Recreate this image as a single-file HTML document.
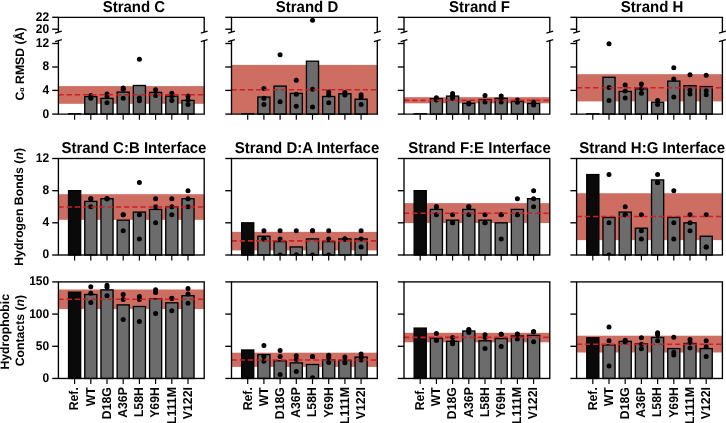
<!DOCTYPE html>
<html><head><meta charset="utf-8"><style>
html,body{margin:0;padding:0;background:#fff;width:726px;height:423px;overflow:hidden}
svg{display:block;will-change:transform}
text{text-rendering:geometricPrecision}
.t{font-family:"Liberation Sans", sans-serif;font-weight:bold;font-size:12px;fill:#000}
.l{font-family:"Liberation Sans", sans-serif;font-weight:bold;font-size:12.25px;fill:#000}
.ti{font-family:"Liberation Sans", sans-serif;font-weight:bold;font-size:15px;fill:#000}
</style></head><body>
<svg width="726" height="423" viewBox="0 0 726 423">
<rect width="726" height="423" fill="#fff"/>
<rect x="58.4" y="86.1" width="145.8" height="17.7" fill="#ce6d62"/>
<line x1="67.88" y1="113.8" x2="81.32" y2="113.8" stroke="#000" stroke-width="1.35"/>
<rect x="84.75" y="96.6" width="12.1" height="17.5" fill="#6c6c6c" stroke="#000" stroke-width="1.35"/>
<rect x="100.95" y="98.4" width="12.1" height="15.7" fill="#6c6c6c" stroke="#000" stroke-width="1.35"/>
<rect x="117.15" y="92.1" width="12.1" height="22" fill="#6c6c6c" stroke="#000" stroke-width="1.35"/>
<rect x="133.35" y="85.5" width="12.1" height="28.6" fill="#6c6c6c" stroke="#000" stroke-width="1.35"/>
<rect x="149.55" y="92.4" width="12.1" height="21.7" fill="#6c6c6c" stroke="#000" stroke-width="1.35"/>
<rect x="165.75" y="96.2" width="12.1" height="17.9" fill="#6c6c6c" stroke="#000" stroke-width="1.35"/>
<rect x="181.95" y="100.4" width="12.1" height="13.7" fill="#6c6c6c" stroke="#000" stroke-width="1.35"/>
<clipPath id="c00a"><rect x="58.4" y="17.3" width="145.8" height="14.8"/></clipPath>
<clipPath id="c00b"><rect x="58.4" y="40.6" width="145.8" height="73.5"/></clipPath>
<circle cx="90.8" cy="95.6" r="2.5" fill="#000" clip-path="url(#c00b)"/>
<circle cx="90.8" cy="98.2" r="2.5" fill="#000" clip-path="url(#c00b)"/>
<circle cx="107" cy="93.9" r="2.5" fill="#000" clip-path="url(#c00b)"/>
<circle cx="107" cy="96.3" r="2.5" fill="#000" clip-path="url(#c00b)"/>
<circle cx="107" cy="102.8" r="2.5" fill="#000" clip-path="url(#c00b)"/>
<circle cx="123.2" cy="88" r="2.5" fill="#000" clip-path="url(#c00b)"/>
<circle cx="123.2" cy="89.3" r="2.5" fill="#000" clip-path="url(#c00b)"/>
<circle cx="123.2" cy="98.2" r="2.5" fill="#000" clip-path="url(#c00b)"/>
<circle cx="139.4" cy="59.3" r="2.5" fill="#000" clip-path="url(#c00b)"/>
<circle cx="139.4" cy="98.1" r="2.5" fill="#000" clip-path="url(#c00b)"/>
<circle cx="139.4" cy="100.7" r="2.5" fill="#000" clip-path="url(#c00b)"/>
<circle cx="155.6" cy="89.8" r="2.5" fill="#000" clip-path="url(#c00b)"/>
<circle cx="155.6" cy="95.5" r="2.5" fill="#000" clip-path="url(#c00b)"/>
<circle cx="171.8" cy="93.3" r="2.5" fill="#000" clip-path="url(#c00b)"/>
<circle cx="171.8" cy="95.9" r="2.5" fill="#000" clip-path="url(#c00b)"/>
<circle cx="171.8" cy="100.5" r="2.5" fill="#000" clip-path="url(#c00b)"/>
<circle cx="188" cy="96" r="2.5" fill="#000" clip-path="url(#c00b)"/>
<circle cx="188" cy="100" r="2.5" fill="#000" clip-path="url(#c00b)"/>
<circle cx="188" cy="104.5" r="2.5" fill="#000" clip-path="url(#c00b)"/>
<line x1="58.4" y1="94.8" x2="204.2" y2="94.8" stroke="#c62229" stroke-width="1.6" stroke-dasharray="5.3 2.9"/>
<path d="M58.4 32.1 V17.3 H204.2 V32.1" fill="none" stroke="#000" stroke-width="1.35"/>
<path d="M58.4 40.6 V114.1 H204.2 V40.6" fill="none" stroke="#000" stroke-width="1.35"/>
<line x1="55" y1="33.1" x2="61.8" y2="31.1" stroke="#000" stroke-width="1.35"/>
<line x1="55" y1="41.6" x2="61.8" y2="39.6" stroke="#000" stroke-width="1.35"/>
<line x1="200.8" y1="33.1" x2="207.6" y2="31.1" stroke="#000" stroke-width="1.35"/>
<line x1="200.8" y1="41.6" x2="207.6" y2="39.6" stroke="#000" stroke-width="1.35"/>
<line x1="52.2" y1="114.1" x2="58.4" y2="114.1" stroke="#000" stroke-width="1.35"/>
<text transform="translate(49.2 117.55) scale(1 1.05)" text-anchor="end" class="t">0</text>
<line x1="52.2" y1="90.4" x2="58.4" y2="90.4" stroke="#000" stroke-width="1.35"/>
<text transform="translate(49.2 93.85) scale(1 1.05)" text-anchor="end" class="t">4</text>
<line x1="52.2" y1="67" x2="58.4" y2="67" stroke="#000" stroke-width="1.35"/>
<text transform="translate(49.2 70.45) scale(1 1.05)" text-anchor="end" class="t">8</text>
<line x1="52.2" y1="43.5" x2="58.4" y2="43.5" stroke="#000" stroke-width="1.35"/>
<text transform="translate(49.2 46.95) scale(1 1.05)" text-anchor="end" class="t">12</text>
<line x1="52.2" y1="29.2" x2="58.4" y2="29.2" stroke="#000" stroke-width="1.35"/>
<text transform="translate(49.2 32.65) scale(1 1.05)" text-anchor="end" class="t">20</text>
<line x1="52.2" y1="17.3" x2="58.4" y2="17.3" stroke="#000" stroke-width="1.35"/>
<text transform="translate(49.2 20.75) scale(1 1.05)" text-anchor="end" class="t">22</text>
<line x1="74.6" y1="114.1" x2="74.6" y2="119.7" stroke="#000" stroke-width="1.2"/>
<line x1="90.8" y1="114.1" x2="90.8" y2="119.7" stroke="#000" stroke-width="1.2"/>
<line x1="107" y1="114.1" x2="107" y2="119.7" stroke="#000" stroke-width="1.2"/>
<line x1="123.2" y1="114.1" x2="123.2" y2="119.7" stroke="#000" stroke-width="1.2"/>
<line x1="139.4" y1="114.1" x2="139.4" y2="119.7" stroke="#000" stroke-width="1.2"/>
<line x1="155.6" y1="114.1" x2="155.6" y2="119.7" stroke="#000" stroke-width="1.2"/>
<line x1="171.8" y1="114.1" x2="171.8" y2="119.7" stroke="#000" stroke-width="1.2"/>
<line x1="188" y1="114.1" x2="188" y2="119.7" stroke="#000" stroke-width="1.2"/>
<text transform="translate(133.9 11.8) scale(1 1.045)" text-anchor="middle" class="ti">Strand C</text>
<rect x="231.5" y="64.9" width="145.8" height="49" fill="#ce6d62"/>
<line x1="240.97" y1="113.8" x2="254.43" y2="113.8" stroke="#000" stroke-width="1.35"/>
<rect x="257.85" y="97.05" width="12.1" height="17.05" fill="#6c6c6c" stroke="#000" stroke-width="1.35"/>
<rect x="274.05" y="86.1" width="12.1" height="28" fill="#6c6c6c" stroke="#000" stroke-width="1.35"/>
<rect x="290.25" y="93.4" width="12.1" height="20.7" fill="#6c6c6c" stroke="#000" stroke-width="1.35"/>
<rect x="306.45" y="61.2" width="12.1" height="52.9" fill="#6c6c6c" stroke="#000" stroke-width="1.35"/>
<rect x="322.65" y="96.5" width="12.1" height="17.6" fill="#6c6c6c" stroke="#000" stroke-width="1.35"/>
<rect x="338.85" y="93.8" width="12.1" height="20.3" fill="#6c6c6c" stroke="#000" stroke-width="1.35"/>
<rect x="355.05" y="99.2" width="12.1" height="14.9" fill="#6c6c6c" stroke="#000" stroke-width="1.35"/>
<clipPath id="c01a"><rect x="231.5" y="17.3" width="145.8" height="14.8"/></clipPath>
<clipPath id="c01b"><rect x="231.5" y="40.6" width="145.8" height="73.5"/></clipPath>
<circle cx="263.9" cy="88.5" r="2.5" fill="#000" clip-path="url(#c01b)"/>
<circle cx="263.9" cy="98.2" r="2.5" fill="#000" clip-path="url(#c01b)"/>
<circle cx="263.9" cy="104.6" r="2.5" fill="#000" clip-path="url(#c01b)"/>
<circle cx="280.1" cy="54.8" r="2.5" fill="#000" clip-path="url(#c01b)"/>
<circle cx="280.1" cy="101.7" r="2.5" fill="#000" clip-path="url(#c01b)"/>
<circle cx="296.3" cy="80.2" r="2.5" fill="#000" clip-path="url(#c01b)"/>
<circle cx="296.3" cy="94.2" r="2.5" fill="#000" clip-path="url(#c01b)"/>
<circle cx="296.3" cy="106.2" r="2.5" fill="#000" clip-path="url(#c01b)"/>
<circle cx="312.5" cy="20.3" r="2.5" fill="#000" clip-path="url(#c01a)"/>
<circle cx="312.5" cy="89.3" r="2.5" fill="#000" clip-path="url(#c01b)"/>
<circle cx="312.5" cy="107" r="2.5" fill="#000" clip-path="url(#c01b)"/>
<circle cx="328.7" cy="92.1" r="2.5" fill="#000" clip-path="url(#c01b)"/>
<circle cx="328.7" cy="95" r="2.5" fill="#000" clip-path="url(#c01b)"/>
<circle cx="328.7" cy="102.7" r="2.5" fill="#000" clip-path="url(#c01b)"/>
<circle cx="344.9" cy="92.6" r="2.5" fill="#000" clip-path="url(#c01b)"/>
<circle cx="344.9" cy="95" r="2.5" fill="#000" clip-path="url(#c01b)"/>
<circle cx="361.1" cy="94.7" r="2.5" fill="#000" clip-path="url(#c01b)"/>
<circle cx="361.1" cy="96.9" r="2.5" fill="#000" clip-path="url(#c01b)"/>
<circle cx="361.1" cy="104.6" r="2.5" fill="#000" clip-path="url(#c01b)"/>
<line x1="231.5" y1="89.8" x2="377.3" y2="89.8" stroke="#c62229" stroke-width="1.6" stroke-dasharray="5.3 2.9"/>
<path d="M231.5 32.1 V17.3 H377.3 V32.1" fill="none" stroke="#000" stroke-width="1.35"/>
<path d="M231.5 40.6 V114.1 H377.3 V40.6" fill="none" stroke="#000" stroke-width="1.35"/>
<line x1="228.1" y1="33.1" x2="234.9" y2="31.1" stroke="#000" stroke-width="1.35"/>
<line x1="228.1" y1="41.6" x2="234.9" y2="39.6" stroke="#000" stroke-width="1.35"/>
<line x1="373.9" y1="33.1" x2="380.7" y2="31.1" stroke="#000" stroke-width="1.35"/>
<line x1="373.9" y1="41.6" x2="380.7" y2="39.6" stroke="#000" stroke-width="1.35"/>
<line x1="225.3" y1="114.1" x2="231.5" y2="114.1" stroke="#000" stroke-width="1.35"/>
<line x1="225.3" y1="90.4" x2="231.5" y2="90.4" stroke="#000" stroke-width="1.35"/>
<line x1="225.3" y1="67" x2="231.5" y2="67" stroke="#000" stroke-width="1.35"/>
<line x1="225.3" y1="43.5" x2="231.5" y2="43.5" stroke="#000" stroke-width="1.35"/>
<line x1="225.3" y1="29.2" x2="231.5" y2="29.2" stroke="#000" stroke-width="1.35"/>
<line x1="225.3" y1="17.3" x2="231.5" y2="17.3" stroke="#000" stroke-width="1.35"/>
<line x1="247.7" y1="114.1" x2="247.7" y2="119.7" stroke="#000" stroke-width="1.2"/>
<line x1="263.9" y1="114.1" x2="263.9" y2="119.7" stroke="#000" stroke-width="1.2"/>
<line x1="280.1" y1="114.1" x2="280.1" y2="119.7" stroke="#000" stroke-width="1.2"/>
<line x1="296.3" y1="114.1" x2="296.3" y2="119.7" stroke="#000" stroke-width="1.2"/>
<line x1="312.5" y1="114.1" x2="312.5" y2="119.7" stroke="#000" stroke-width="1.2"/>
<line x1="328.7" y1="114.1" x2="328.7" y2="119.7" stroke="#000" stroke-width="1.2"/>
<line x1="344.9" y1="114.1" x2="344.9" y2="119.7" stroke="#000" stroke-width="1.2"/>
<line x1="361.1" y1="114.1" x2="361.1" y2="119.7" stroke="#000" stroke-width="1.2"/>
<text transform="translate(307 11.8) scale(1 1.045)" text-anchor="middle" class="ti">Strand D</text>
<rect x="404" y="97.2" width="145.8" height="6.1" fill="#ce6d62"/>
<line x1="413.47" y1="113.8" x2="426.93" y2="113.8" stroke="#000" stroke-width="1.35"/>
<rect x="430.35" y="98.7" width="12.1" height="15.4" fill="#6c6c6c" stroke="#000" stroke-width="1.35"/>
<rect x="446.55" y="96.1" width="12.1" height="18" fill="#6c6c6c" stroke="#000" stroke-width="1.35"/>
<rect x="462.75" y="103.3" width="12.1" height="10.8" fill="#6c6c6c" stroke="#000" stroke-width="1.35"/>
<rect x="478.95" y="99.5" width="12.1" height="14.6" fill="#6c6c6c" stroke="#000" stroke-width="1.35"/>
<rect x="495.15" y="98.3" width="12.1" height="15.8" fill="#6c6c6c" stroke="#000" stroke-width="1.35"/>
<rect x="511.35" y="101.4" width="12.1" height="12.7" fill="#6c6c6c" stroke="#000" stroke-width="1.35"/>
<rect x="527.55" y="103.4" width="12.1" height="10.7" fill="#6c6c6c" stroke="#000" stroke-width="1.35"/>
<clipPath id="c02a"><rect x="404" y="17.3" width="145.8" height="14.8"/></clipPath>
<clipPath id="c02b"><rect x="404" y="40.6" width="145.8" height="73.5"/></clipPath>
<circle cx="436.4" cy="97.7" r="2.5" fill="#000" clip-path="url(#c02b)"/>
<circle cx="436.4" cy="100" r="2.5" fill="#000" clip-path="url(#c02b)"/>
<circle cx="452.6" cy="93.6" r="2.5" fill="#000" clip-path="url(#c02b)"/>
<circle cx="452.6" cy="95.8" r="2.5" fill="#000" clip-path="url(#c02b)"/>
<circle cx="452.6" cy="98.4" r="2.5" fill="#000" clip-path="url(#c02b)"/>
<circle cx="468.8" cy="102.9" r="2.5" fill="#000" clip-path="url(#c02b)"/>
<circle cx="468.8" cy="104" r="2.5" fill="#000" clip-path="url(#c02b)"/>
<circle cx="485" cy="95.5" r="2.5" fill="#000" clip-path="url(#c02b)"/>
<circle cx="485" cy="102" r="2.5" fill="#000" clip-path="url(#c02b)"/>
<circle cx="501.2" cy="96" r="2.5" fill="#000" clip-path="url(#c02b)"/>
<circle cx="501.2" cy="99.3" r="2.5" fill="#000" clip-path="url(#c02b)"/>
<circle cx="501.2" cy="101.9" r="2.5" fill="#000" clip-path="url(#c02b)"/>
<circle cx="517.4" cy="100" r="2.5" fill="#000" clip-path="url(#c02b)"/>
<circle cx="517.4" cy="102.3" r="2.5" fill="#000" clip-path="url(#c02b)"/>
<circle cx="533.6" cy="102" r="2.5" fill="#000" clip-path="url(#c02b)"/>
<circle cx="533.6" cy="105" r="2.5" fill="#000" clip-path="url(#c02b)"/>
<line x1="404" y1="100.35" x2="549.8" y2="100.35" stroke="#c62229" stroke-width="1.6" stroke-dasharray="5.3 2.9"/>
<path d="M404 32.1 V17.3 H549.8 V32.1" fill="none" stroke="#000" stroke-width="1.35"/>
<path d="M404 40.6 V114.1 H549.8 V40.6" fill="none" stroke="#000" stroke-width="1.35"/>
<line x1="400.6" y1="33.1" x2="407.4" y2="31.1" stroke="#000" stroke-width="1.35"/>
<line x1="400.6" y1="41.6" x2="407.4" y2="39.6" stroke="#000" stroke-width="1.35"/>
<line x1="546.4" y1="33.1" x2="553.2" y2="31.1" stroke="#000" stroke-width="1.35"/>
<line x1="546.4" y1="41.6" x2="553.2" y2="39.6" stroke="#000" stroke-width="1.35"/>
<line x1="397.8" y1="114.1" x2="404" y2="114.1" stroke="#000" stroke-width="1.35"/>
<line x1="397.8" y1="90.4" x2="404" y2="90.4" stroke="#000" stroke-width="1.35"/>
<line x1="397.8" y1="67" x2="404" y2="67" stroke="#000" stroke-width="1.35"/>
<line x1="397.8" y1="43.5" x2="404" y2="43.5" stroke="#000" stroke-width="1.35"/>
<line x1="397.8" y1="29.2" x2="404" y2="29.2" stroke="#000" stroke-width="1.35"/>
<line x1="397.8" y1="17.3" x2="404" y2="17.3" stroke="#000" stroke-width="1.35"/>
<line x1="420.2" y1="114.1" x2="420.2" y2="119.7" stroke="#000" stroke-width="1.2"/>
<line x1="436.4" y1="114.1" x2="436.4" y2="119.7" stroke="#000" stroke-width="1.2"/>
<line x1="452.6" y1="114.1" x2="452.6" y2="119.7" stroke="#000" stroke-width="1.2"/>
<line x1="468.8" y1="114.1" x2="468.8" y2="119.7" stroke="#000" stroke-width="1.2"/>
<line x1="485" y1="114.1" x2="485" y2="119.7" stroke="#000" stroke-width="1.2"/>
<line x1="501.2" y1="114.1" x2="501.2" y2="119.7" stroke="#000" stroke-width="1.2"/>
<line x1="517.4" y1="114.1" x2="517.4" y2="119.7" stroke="#000" stroke-width="1.2"/>
<line x1="533.6" y1="114.1" x2="533.6" y2="119.7" stroke="#000" stroke-width="1.2"/>
<text transform="translate(479.5 11.8) scale(1 1.045)" text-anchor="middle" class="ti">Strand F</text>
<rect x="576.6" y="74.2" width="145.8" height="27.2" fill="#ce6d62"/>
<line x1="586.08" y1="113.8" x2="599.52" y2="113.8" stroke="#000" stroke-width="1.35"/>
<rect x="602.95" y="77.3" width="12.1" height="36.8" fill="#6c6c6c" stroke="#000" stroke-width="1.35"/>
<rect x="619.15" y="91.4" width="12.1" height="22.7" fill="#6c6c6c" stroke="#000" stroke-width="1.35"/>
<rect x="635.35" y="88.85" width="12.1" height="25.25" fill="#6c6c6c" stroke="#000" stroke-width="1.35"/>
<rect x="651.55" y="102.2" width="12.1" height="11.9" fill="#6c6c6c" stroke="#000" stroke-width="1.35"/>
<rect x="667.75" y="81.1" width="12.1" height="33" fill="#6c6c6c" stroke="#000" stroke-width="1.35"/>
<rect x="683.95" y="85.7" width="12.1" height="28.4" fill="#6c6c6c" stroke="#000" stroke-width="1.35"/>
<rect x="700.15" y="86.6" width="12.1" height="27.5" fill="#6c6c6c" stroke="#000" stroke-width="1.35"/>
<clipPath id="c03a"><rect x="576.6" y="17.3" width="145.8" height="14.8"/></clipPath>
<clipPath id="c03b"><rect x="576.6" y="40.6" width="145.8" height="73.5"/></clipPath>
<circle cx="609" cy="43.8" r="2.5" fill="#000" clip-path="url(#c03b)"/>
<circle cx="609" cy="87.6" r="2.5" fill="#000" clip-path="url(#c03b)"/>
<circle cx="609" cy="100.5" r="2.5" fill="#000" clip-path="url(#c03b)"/>
<circle cx="625.2" cy="84.9" r="2.5" fill="#000" clip-path="url(#c03b)"/>
<circle cx="625.2" cy="91" r="2.5" fill="#000" clip-path="url(#c03b)"/>
<circle cx="625.2" cy="98" r="2.5" fill="#000" clip-path="url(#c03b)"/>
<circle cx="641.4" cy="83.9" r="2.5" fill="#000" clip-path="url(#c03b)"/>
<circle cx="641.4" cy="88.5" r="2.5" fill="#000" clip-path="url(#c03b)"/>
<circle cx="641.4" cy="93.3" r="2.5" fill="#000" clip-path="url(#c03b)"/>
<circle cx="657.6" cy="100.4" r="2.5" fill="#000" clip-path="url(#c03b)"/>
<circle cx="657.6" cy="104.5" r="2.5" fill="#000" clip-path="url(#c03b)"/>
<circle cx="673.8" cy="67.8" r="2.5" fill="#000" clip-path="url(#c03b)"/>
<circle cx="673.8" cy="79" r="2.5" fill="#000" clip-path="url(#c03b)"/>
<circle cx="673.8" cy="97" r="2.5" fill="#000" clip-path="url(#c03b)"/>
<circle cx="690" cy="74.8" r="2.5" fill="#000" clip-path="url(#c03b)"/>
<circle cx="690" cy="90.1" r="2.5" fill="#000" clip-path="url(#c03b)"/>
<circle cx="690" cy="94.1" r="2.5" fill="#000" clip-path="url(#c03b)"/>
<circle cx="706.2" cy="75.3" r="2.5" fill="#000" clip-path="url(#c03b)"/>
<circle cx="706.2" cy="90.7" r="2.5" fill="#000" clip-path="url(#c03b)"/>
<circle cx="706.2" cy="94.8" r="2.5" fill="#000" clip-path="url(#c03b)"/>
<line x1="576.6" y1="87.7" x2="722.4" y2="87.7" stroke="#c62229" stroke-width="1.6" stroke-dasharray="5.3 2.9"/>
<path d="M576.6 32.1 V17.3 H722.4 V32.1" fill="none" stroke="#000" stroke-width="1.35"/>
<path d="M576.6 40.6 V114.1 H722.4 V40.6" fill="none" stroke="#000" stroke-width="1.35"/>
<line x1="573.2" y1="33.1" x2="580" y2="31.1" stroke="#000" stroke-width="1.35"/>
<line x1="573.2" y1="41.6" x2="580" y2="39.6" stroke="#000" stroke-width="1.35"/>
<line x1="719" y1="33.1" x2="725.8" y2="31.1" stroke="#000" stroke-width="1.35"/>
<line x1="719" y1="41.6" x2="725.8" y2="39.6" stroke="#000" stroke-width="1.35"/>
<line x1="570.4" y1="114.1" x2="576.6" y2="114.1" stroke="#000" stroke-width="1.35"/>
<line x1="570.4" y1="90.4" x2="576.6" y2="90.4" stroke="#000" stroke-width="1.35"/>
<line x1="570.4" y1="67" x2="576.6" y2="67" stroke="#000" stroke-width="1.35"/>
<line x1="570.4" y1="43.5" x2="576.6" y2="43.5" stroke="#000" stroke-width="1.35"/>
<line x1="570.4" y1="29.2" x2="576.6" y2="29.2" stroke="#000" stroke-width="1.35"/>
<line x1="570.4" y1="17.3" x2="576.6" y2="17.3" stroke="#000" stroke-width="1.35"/>
<line x1="592.8" y1="114.1" x2="592.8" y2="119.7" stroke="#000" stroke-width="1.2"/>
<line x1="609" y1="114.1" x2="609" y2="119.7" stroke="#000" stroke-width="1.2"/>
<line x1="625.2" y1="114.1" x2="625.2" y2="119.7" stroke="#000" stroke-width="1.2"/>
<line x1="641.4" y1="114.1" x2="641.4" y2="119.7" stroke="#000" stroke-width="1.2"/>
<line x1="657.6" y1="114.1" x2="657.6" y2="119.7" stroke="#000" stroke-width="1.2"/>
<line x1="673.8" y1="114.1" x2="673.8" y2="119.7" stroke="#000" stroke-width="1.2"/>
<line x1="690" y1="114.1" x2="690" y2="119.7" stroke="#000" stroke-width="1.2"/>
<line x1="706.2" y1="114.1" x2="706.2" y2="119.7" stroke="#000" stroke-width="1.2"/>
<text transform="translate(652.1 11.8) scale(1 1.045)" text-anchor="middle" class="ti">Strand H</text>
<rect x="58.4" y="194.2" width="145.8" height="25.65" fill="#ce6d62"/>
<rect x="68.55" y="190.67" width="12.1" height="64.33" fill="#0a0a0a" stroke="#000" stroke-width="1.35"/>
<rect x="84.75" y="201.39" width="12.1" height="53.61" fill="#6c6c6c" stroke="#000" stroke-width="1.35"/>
<rect x="100.95" y="198.71" width="12.1" height="56.29" fill="#6c6c6c" stroke="#000" stroke-width="1.35"/>
<rect x="117.15" y="220.15" width="12.1" height="34.85" fill="#6c6c6c" stroke="#000" stroke-width="1.35"/>
<rect x="133.35" y="212.11" width="12.1" height="42.89" fill="#6c6c6c" stroke="#000" stroke-width="1.35"/>
<rect x="149.55" y="209.43" width="12.1" height="45.57" fill="#6c6c6c" stroke="#000" stroke-width="1.35"/>
<rect x="165.75" y="206.75" width="12.1" height="48.25" fill="#6c6c6c" stroke="#000" stroke-width="1.35"/>
<rect x="181.95" y="198.71" width="12.1" height="56.29" fill="#6c6c6c" stroke="#000" stroke-width="1.35"/>
<clipPath id="c10"><rect x="58.4" y="158.5" width="145.8" height="96.5"/></clipPath>
<circle cx="90.8" cy="198.71" r="2.5" fill="#000" clip-path="url(#c10)"/>
<circle cx="90.8" cy="198.71" r="2.5" fill="#000" clip-path="url(#c10)"/>
<circle cx="90.8" cy="206.75" r="2.5" fill="#000" clip-path="url(#c10)"/>
<circle cx="107" cy="198.71" r="2.5" fill="#000" clip-path="url(#c10)"/>
<circle cx="107" cy="198.71" r="2.5" fill="#000" clip-path="url(#c10)"/>
<circle cx="107" cy="198.71" r="2.5" fill="#000" clip-path="url(#c10)"/>
<circle cx="123.2" cy="214.79" r="2.5" fill="#000" clip-path="url(#c10)"/>
<circle cx="123.2" cy="214.79" r="2.5" fill="#000" clip-path="url(#c10)"/>
<circle cx="123.2" cy="230.87" r="2.5" fill="#000" clip-path="url(#c10)"/>
<circle cx="139.4" cy="182.62" r="2.5" fill="#000" clip-path="url(#c10)"/>
<circle cx="139.4" cy="214.79" r="2.5" fill="#000" clip-path="url(#c10)"/>
<circle cx="139.4" cy="238.92" r="2.5" fill="#000" clip-path="url(#c10)"/>
<circle cx="155.6" cy="198.71" r="2.5" fill="#000" clip-path="url(#c10)"/>
<circle cx="155.6" cy="206.75" r="2.5" fill="#000" clip-path="url(#c10)"/>
<circle cx="155.6" cy="222.83" r="2.5" fill="#000" clip-path="url(#c10)"/>
<circle cx="171.8" cy="198.71" r="2.5" fill="#000" clip-path="url(#c10)"/>
<circle cx="171.8" cy="206.75" r="2.5" fill="#000" clip-path="url(#c10)"/>
<circle cx="171.8" cy="214.79" r="2.5" fill="#000" clip-path="url(#c10)"/>
<circle cx="188" cy="190.67" r="2.5" fill="#000" clip-path="url(#c10)"/>
<circle cx="188" cy="198.71" r="2.5" fill="#000" clip-path="url(#c10)"/>
<circle cx="188" cy="206.75" r="2.5" fill="#000" clip-path="url(#c10)"/>
<line x1="58.4" y1="206.99" x2="204.2" y2="206.99" stroke="#c62229" stroke-width="1.6" stroke-dasharray="5.3 2.9"/>
<rect x="58.4" y="158.5" width="145.8" height="96.5" fill="none" stroke="#000" stroke-width="1.35"/>
<line x1="52.2" y1="255" x2="58.4" y2="255" stroke="#000" stroke-width="1.35"/>
<text transform="translate(49.2 258.45) scale(1 1.05)" text-anchor="end" class="t">0</text>
<line x1="52.2" y1="222.8" x2="58.4" y2="222.8" stroke="#000" stroke-width="1.35"/>
<text transform="translate(49.2 226.25) scale(1 1.05)" text-anchor="end" class="t">4</text>
<line x1="52.2" y1="190.7" x2="58.4" y2="190.7" stroke="#000" stroke-width="1.35"/>
<text transform="translate(49.2 194.15) scale(1 1.05)" text-anchor="end" class="t">8</text>
<line x1="52.2" y1="158.5" x2="58.4" y2="158.5" stroke="#000" stroke-width="1.35"/>
<text transform="translate(49.2 161.95) scale(1 1.05)" text-anchor="end" class="t">12</text>
<line x1="74.6" y1="255" x2="74.6" y2="260.6" stroke="#000" stroke-width="1.2"/>
<line x1="90.8" y1="255" x2="90.8" y2="260.6" stroke="#000" stroke-width="1.2"/>
<line x1="107" y1="255" x2="107" y2="260.6" stroke="#000" stroke-width="1.2"/>
<line x1="123.2" y1="255" x2="123.2" y2="260.6" stroke="#000" stroke-width="1.2"/>
<line x1="139.4" y1="255" x2="139.4" y2="260.6" stroke="#000" stroke-width="1.2"/>
<line x1="155.6" y1="255" x2="155.6" y2="260.6" stroke="#000" stroke-width="1.2"/>
<line x1="171.8" y1="255" x2="171.8" y2="260.6" stroke="#000" stroke-width="1.2"/>
<line x1="188" y1="255" x2="188" y2="260.6" stroke="#000" stroke-width="1.2"/>
<text transform="translate(133.9 153) scale(1 1.045)" text-anchor="middle" class="ti">Strand C:B Interface</text>
<rect x="231.5" y="231.84" width="145.8" height="18.58" fill="#ce6d62"/>
<rect x="241.65" y="222.83" width="12.1" height="32.17" fill="#0a0a0a" stroke="#000" stroke-width="1.35"/>
<rect x="257.85" y="236.24" width="12.1" height="18.76" fill="#6c6c6c" stroke="#000" stroke-width="1.35"/>
<rect x="274.05" y="241.6" width="12.1" height="13.4" fill="#6c6c6c" stroke="#000" stroke-width="1.35"/>
<rect x="290.25" y="246.96" width="12.1" height="8.04" fill="#6c6c6c" stroke="#000" stroke-width="1.35"/>
<rect x="306.45" y="238.92" width="12.1" height="16.08" fill="#6c6c6c" stroke="#000" stroke-width="1.35"/>
<rect x="322.65" y="241.6" width="12.1" height="13.4" fill="#6c6c6c" stroke="#000" stroke-width="1.35"/>
<rect x="338.85" y="238.92" width="12.1" height="16.08" fill="#6c6c6c" stroke="#000" stroke-width="1.35"/>
<rect x="355.05" y="238.92" width="12.1" height="16.08" fill="#6c6c6c" stroke="#000" stroke-width="1.35"/>
<clipPath id="c11"><rect x="231.5" y="158.5" width="145.8" height="96.5"/></clipPath>
<circle cx="263.9" cy="230.87" r="2.5" fill="#000" clip-path="url(#c11)"/>
<circle cx="263.9" cy="238.92" r="2.5" fill="#000" clip-path="url(#c11)"/>
<circle cx="263.9" cy="238.92" r="2.5" fill="#000" clip-path="url(#c11)"/>
<circle cx="280.1" cy="230.87" r="2.5" fill="#000" clip-path="url(#c11)"/>
<circle cx="280.1" cy="238.92" r="2.5" fill="#000" clip-path="url(#c11)"/>
<circle cx="280.1" cy="255" r="2.5" fill="#000" clip-path="url(#c11)"/>
<circle cx="296.3" cy="230.87" r="2.5" fill="#000" clip-path="url(#c11)"/>
<circle cx="296.3" cy="255" r="2.5" fill="#000" clip-path="url(#c11)"/>
<circle cx="296.3" cy="255" r="2.5" fill="#000" clip-path="url(#c11)"/>
<circle cx="312.5" cy="230.87" r="2.5" fill="#000" clip-path="url(#c11)"/>
<circle cx="312.5" cy="230.87" r="2.5" fill="#000" clip-path="url(#c11)"/>
<circle cx="312.5" cy="255" r="2.5" fill="#000" clip-path="url(#c11)"/>
<circle cx="328.7" cy="230.87" r="2.5" fill="#000" clip-path="url(#c11)"/>
<circle cx="328.7" cy="238.92" r="2.5" fill="#000" clip-path="url(#c11)"/>
<circle cx="328.7" cy="255" r="2.5" fill="#000" clip-path="url(#c11)"/>
<circle cx="344.9" cy="238.92" r="2.5" fill="#000" clip-path="url(#c11)"/>
<circle cx="344.9" cy="238.92" r="2.5" fill="#000" clip-path="url(#c11)"/>
<circle cx="344.9" cy="238.92" r="2.5" fill="#000" clip-path="url(#c11)"/>
<circle cx="361.1" cy="230.87" r="2.5" fill="#000" clip-path="url(#c11)"/>
<circle cx="361.1" cy="238.92" r="2.5" fill="#000" clip-path="url(#c11)"/>
<circle cx="361.1" cy="246.96" r="2.5" fill="#000" clip-path="url(#c11)"/>
<line x1="231.5" y1="240.85" x2="377.3" y2="240.85" stroke="#c62229" stroke-width="1.6" stroke-dasharray="5.3 2.9"/>
<rect x="231.5" y="158.5" width="145.8" height="96.5" fill="none" stroke="#000" stroke-width="1.35"/>
<line x1="225.3" y1="255" x2="231.5" y2="255" stroke="#000" stroke-width="1.35"/>
<line x1="225.3" y1="222.8" x2="231.5" y2="222.8" stroke="#000" stroke-width="1.35"/>
<line x1="225.3" y1="190.7" x2="231.5" y2="190.7" stroke="#000" stroke-width="1.35"/>
<line x1="225.3" y1="158.5" x2="231.5" y2="158.5" stroke="#000" stroke-width="1.35"/>
<line x1="247.7" y1="255" x2="247.7" y2="260.6" stroke="#000" stroke-width="1.2"/>
<line x1="263.9" y1="255" x2="263.9" y2="260.6" stroke="#000" stroke-width="1.2"/>
<line x1="280.1" y1="255" x2="280.1" y2="260.6" stroke="#000" stroke-width="1.2"/>
<line x1="296.3" y1="255" x2="296.3" y2="260.6" stroke="#000" stroke-width="1.2"/>
<line x1="312.5" y1="255" x2="312.5" y2="260.6" stroke="#000" stroke-width="1.2"/>
<line x1="328.7" y1="255" x2="328.7" y2="260.6" stroke="#000" stroke-width="1.2"/>
<line x1="344.9" y1="255" x2="344.9" y2="260.6" stroke="#000" stroke-width="1.2"/>
<line x1="361.1" y1="255" x2="361.1" y2="260.6" stroke="#000" stroke-width="1.2"/>
<text transform="translate(307 153) scale(1 1.045)" text-anchor="middle" class="ti">Strand D:A Interface</text>
<rect x="404" y="203.13" width="145.8" height="19.94" fill="#ce6d62"/>
<rect x="414.15" y="190.67" width="12.1" height="64.33" fill="#0a0a0a" stroke="#000" stroke-width="1.35"/>
<rect x="430.35" y="209.43" width="12.1" height="45.57" fill="#6c6c6c" stroke="#000" stroke-width="1.35"/>
<rect x="446.55" y="220.15" width="12.1" height="34.85" fill="#6c6c6c" stroke="#000" stroke-width="1.35"/>
<rect x="462.75" y="209.43" width="12.1" height="45.57" fill="#6c6c6c" stroke="#000" stroke-width="1.35"/>
<rect x="478.95" y="220.15" width="12.1" height="34.85" fill="#6c6c6c" stroke="#000" stroke-width="1.35"/>
<rect x="495.15" y="222.83" width="12.1" height="32.17" fill="#6c6c6c" stroke="#000" stroke-width="1.35"/>
<rect x="511.35" y="209.43" width="12.1" height="45.57" fill="#6c6c6c" stroke="#000" stroke-width="1.35"/>
<rect x="527.55" y="198.71" width="12.1" height="56.29" fill="#6c6c6c" stroke="#000" stroke-width="1.35"/>
<clipPath id="c12"><rect x="404" y="158.5" width="145.8" height="96.5"/></clipPath>
<circle cx="436.4" cy="206.75" r="2.5" fill="#000" clip-path="url(#c12)"/>
<circle cx="436.4" cy="206.75" r="2.5" fill="#000" clip-path="url(#c12)"/>
<circle cx="436.4" cy="214.79" r="2.5" fill="#000" clip-path="url(#c12)"/>
<circle cx="452.6" cy="214.79" r="2.5" fill="#000" clip-path="url(#c12)"/>
<circle cx="452.6" cy="222.83" r="2.5" fill="#000" clip-path="url(#c12)"/>
<circle cx="452.6" cy="222.83" r="2.5" fill="#000" clip-path="url(#c12)"/>
<circle cx="468.8" cy="206.75" r="2.5" fill="#000" clip-path="url(#c12)"/>
<circle cx="468.8" cy="206.75" r="2.5" fill="#000" clip-path="url(#c12)"/>
<circle cx="468.8" cy="214.79" r="2.5" fill="#000" clip-path="url(#c12)"/>
<circle cx="485" cy="214.79" r="2.5" fill="#000" clip-path="url(#c12)"/>
<circle cx="485" cy="222.83" r="2.5" fill="#000" clip-path="url(#c12)"/>
<circle cx="485" cy="222.83" r="2.5" fill="#000" clip-path="url(#c12)"/>
<circle cx="501.2" cy="214.79" r="2.5" fill="#000" clip-path="url(#c12)"/>
<circle cx="501.2" cy="214.79" r="2.5" fill="#000" clip-path="url(#c12)"/>
<circle cx="501.2" cy="238.92" r="2.5" fill="#000" clip-path="url(#c12)"/>
<circle cx="517.4" cy="198.71" r="2.5" fill="#000" clip-path="url(#c12)"/>
<circle cx="517.4" cy="214.79" r="2.5" fill="#000" clip-path="url(#c12)"/>
<circle cx="517.4" cy="214.79" r="2.5" fill="#000" clip-path="url(#c12)"/>
<circle cx="533.6" cy="190.67" r="2.5" fill="#000" clip-path="url(#c12)"/>
<circle cx="533.6" cy="198.71" r="2.5" fill="#000" clip-path="url(#c12)"/>
<circle cx="533.6" cy="206.75" r="2.5" fill="#000" clip-path="url(#c12)"/>
<line x1="404" y1="213.18" x2="549.8" y2="213.18" stroke="#c62229" stroke-width="1.6" stroke-dasharray="5.3 2.9"/>
<rect x="404" y="158.5" width="145.8" height="96.5" fill="none" stroke="#000" stroke-width="1.35"/>
<line x1="397.8" y1="255" x2="404" y2="255" stroke="#000" stroke-width="1.35"/>
<line x1="397.8" y1="222.8" x2="404" y2="222.8" stroke="#000" stroke-width="1.35"/>
<line x1="397.8" y1="190.7" x2="404" y2="190.7" stroke="#000" stroke-width="1.35"/>
<line x1="397.8" y1="158.5" x2="404" y2="158.5" stroke="#000" stroke-width="1.35"/>
<line x1="420.2" y1="255" x2="420.2" y2="260.6" stroke="#000" stroke-width="1.2"/>
<line x1="436.4" y1="255" x2="436.4" y2="260.6" stroke="#000" stroke-width="1.2"/>
<line x1="452.6" y1="255" x2="452.6" y2="260.6" stroke="#000" stroke-width="1.2"/>
<line x1="468.8" y1="255" x2="468.8" y2="260.6" stroke="#000" stroke-width="1.2"/>
<line x1="485" y1="255" x2="485" y2="260.6" stroke="#000" stroke-width="1.2"/>
<line x1="501.2" y1="255" x2="501.2" y2="260.6" stroke="#000" stroke-width="1.2"/>
<line x1="517.4" y1="255" x2="517.4" y2="260.6" stroke="#000" stroke-width="1.2"/>
<line x1="533.6" y1="255" x2="533.6" y2="260.6" stroke="#000" stroke-width="1.2"/>
<text transform="translate(479.5 153) scale(1 1.045)" text-anchor="middle" class="ti">Strand F:E Interface</text>
<rect x="576.6" y="193.24" width="145.8" height="46.88" fill="#ce6d62"/>
<rect x="586.75" y="174.58" width="12.1" height="80.42" fill="#0a0a0a" stroke="#000" stroke-width="1.35"/>
<rect x="602.95" y="217.47" width="12.1" height="37.53" fill="#6c6c6c" stroke="#000" stroke-width="1.35"/>
<rect x="619.15" y="212.11" width="12.1" height="42.89" fill="#6c6c6c" stroke="#000" stroke-width="1.35"/>
<rect x="635.35" y="228.19" width="12.1" height="26.81" fill="#6c6c6c" stroke="#000" stroke-width="1.35"/>
<rect x="651.55" y="179.94" width="12.1" height="75.06" fill="#6c6c6c" stroke="#000" stroke-width="1.35"/>
<rect x="667.75" y="217.47" width="12.1" height="37.53" fill="#6c6c6c" stroke="#000" stroke-width="1.35"/>
<rect x="683.95" y="222.83" width="12.1" height="32.17" fill="#6c6c6c" stroke="#000" stroke-width="1.35"/>
<rect x="700.15" y="236.24" width="12.1" height="18.76" fill="#6c6c6c" stroke="#000" stroke-width="1.35"/>
<clipPath id="c13"><rect x="576.6" y="158.5" width="145.8" height="96.5"/></clipPath>
<circle cx="609" cy="174.58" r="2.5" fill="#000" clip-path="url(#c13)"/>
<circle cx="609" cy="222.83" r="2.5" fill="#000" clip-path="url(#c13)"/>
<circle cx="609" cy="255" r="2.5" fill="#000" clip-path="url(#c13)"/>
<circle cx="625.2" cy="206.75" r="2.5" fill="#000" clip-path="url(#c13)"/>
<circle cx="625.2" cy="214.79" r="2.5" fill="#000" clip-path="url(#c13)"/>
<circle cx="625.2" cy="214.79" r="2.5" fill="#000" clip-path="url(#c13)"/>
<circle cx="641.4" cy="214.79" r="2.5" fill="#000" clip-path="url(#c13)"/>
<circle cx="641.4" cy="230.87" r="2.5" fill="#000" clip-path="url(#c13)"/>
<circle cx="641.4" cy="238.92" r="2.5" fill="#000" clip-path="url(#c13)"/>
<circle cx="657.6" cy="174.58" r="2.5" fill="#000" clip-path="url(#c13)"/>
<circle cx="657.6" cy="182.62" r="2.5" fill="#000" clip-path="url(#c13)"/>
<circle cx="657.6" cy="182.62" r="2.5" fill="#000" clip-path="url(#c13)"/>
<circle cx="673.8" cy="190.67" r="2.5" fill="#000" clip-path="url(#c13)"/>
<circle cx="673.8" cy="222.83" r="2.5" fill="#000" clip-path="url(#c13)"/>
<circle cx="673.8" cy="238.92" r="2.5" fill="#000" clip-path="url(#c13)"/>
<circle cx="690" cy="214.79" r="2.5" fill="#000" clip-path="url(#c13)"/>
<circle cx="690" cy="222.83" r="2.5" fill="#000" clip-path="url(#c13)"/>
<circle cx="690" cy="230.87" r="2.5" fill="#000" clip-path="url(#c13)"/>
<circle cx="706.2" cy="214.79" r="2.5" fill="#000" clip-path="url(#c13)"/>
<circle cx="706.2" cy="246.96" r="2.5" fill="#000" clip-path="url(#c13)"/>
<circle cx="706.2" cy="246.96" r="2.5" fill="#000" clip-path="url(#c13)"/>
<line x1="576.6" y1="216.48" x2="722.4" y2="216.48" stroke="#c62229" stroke-width="1.6" stroke-dasharray="5.3 2.9"/>
<rect x="576.6" y="158.5" width="145.8" height="96.5" fill="none" stroke="#000" stroke-width="1.35"/>
<line x1="570.4" y1="255" x2="576.6" y2="255" stroke="#000" stroke-width="1.35"/>
<line x1="570.4" y1="222.8" x2="576.6" y2="222.8" stroke="#000" stroke-width="1.35"/>
<line x1="570.4" y1="190.7" x2="576.6" y2="190.7" stroke="#000" stroke-width="1.35"/>
<line x1="570.4" y1="158.5" x2="576.6" y2="158.5" stroke="#000" stroke-width="1.35"/>
<line x1="592.8" y1="255" x2="592.8" y2="260.6" stroke="#000" stroke-width="1.2"/>
<line x1="609" y1="255" x2="609" y2="260.6" stroke="#000" stroke-width="1.2"/>
<line x1="625.2" y1="255" x2="625.2" y2="260.6" stroke="#000" stroke-width="1.2"/>
<line x1="641.4" y1="255" x2="641.4" y2="260.6" stroke="#000" stroke-width="1.2"/>
<line x1="657.6" y1="255" x2="657.6" y2="260.6" stroke="#000" stroke-width="1.2"/>
<line x1="673.8" y1="255" x2="673.8" y2="260.6" stroke="#000" stroke-width="1.2"/>
<line x1="690" y1="255" x2="690" y2="260.6" stroke="#000" stroke-width="1.2"/>
<line x1="706.2" y1="255" x2="706.2" y2="260.6" stroke="#000" stroke-width="1.2"/>
<text transform="translate(652.1 153) scale(1 1.045)" text-anchor="middle" class="ti">Strand H:G Interface</text>
<rect x="58.4" y="289.5" width="145.8" height="19.6" fill="#ce6d62"/>
<rect x="68.55" y="292.2" width="12.1" height="86.25" fill="#0a0a0a" stroke="#000" stroke-width="1.35"/>
<rect x="84.75" y="294.5" width="12.1" height="83.95" fill="#6c6c6c" stroke="#000" stroke-width="1.35"/>
<rect x="100.95" y="289.9" width="12.1" height="88.55" fill="#6c6c6c" stroke="#000" stroke-width="1.35"/>
<rect x="117.15" y="304.9" width="12.1" height="73.55" fill="#6c6c6c" stroke="#000" stroke-width="1.35"/>
<rect x="133.35" y="306.5" width="12.1" height="71.95" fill="#6c6c6c" stroke="#000" stroke-width="1.35"/>
<rect x="149.55" y="298.9" width="12.1" height="79.55" fill="#6c6c6c" stroke="#000" stroke-width="1.35"/>
<rect x="165.75" y="302.8" width="12.1" height="75.65" fill="#6c6c6c" stroke="#000" stroke-width="1.35"/>
<rect x="181.95" y="295.7" width="12.1" height="82.75" fill="#6c6c6c" stroke="#000" stroke-width="1.35"/>
<clipPath id="c20"><rect x="58.4" y="281.9" width="145.8" height="96.55"/></clipPath>
<circle cx="90.8" cy="286.8" r="2.5" fill="#000" clip-path="url(#c20)"/>
<circle cx="90.8" cy="293.3" r="2.5" fill="#000" clip-path="url(#c20)"/>
<circle cx="90.8" cy="302.6" r="2.5" fill="#000" clip-path="url(#c20)"/>
<circle cx="107" cy="285.2" r="2.5" fill="#000" clip-path="url(#c20)"/>
<circle cx="107" cy="287.3" r="2.5" fill="#000" clip-path="url(#c20)"/>
<circle cx="107" cy="295.8" r="2.5" fill="#000" clip-path="url(#c20)"/>
<circle cx="123.2" cy="294.4" r="2.5" fill="#000" clip-path="url(#c20)"/>
<circle cx="123.2" cy="299.6" r="2.5" fill="#000" clip-path="url(#c20)"/>
<circle cx="123.2" cy="319.5" r="2.5" fill="#000" clip-path="url(#c20)"/>
<circle cx="139.4" cy="296.4" r="2.5" fill="#000" clip-path="url(#c20)"/>
<circle cx="139.4" cy="299.4" r="2.5" fill="#000" clip-path="url(#c20)"/>
<circle cx="139.4" cy="321.6" r="2.5" fill="#000" clip-path="url(#c20)"/>
<circle cx="155.6" cy="289.8" r="2.5" fill="#000" clip-path="url(#c20)"/>
<circle cx="155.6" cy="292.4" r="2.5" fill="#000" clip-path="url(#c20)"/>
<circle cx="155.6" cy="313.4" r="2.5" fill="#000" clip-path="url(#c20)"/>
<circle cx="171.8" cy="298.3" r="2.5" fill="#000" clip-path="url(#c20)"/>
<circle cx="171.8" cy="298.4" r="2.5" fill="#000" clip-path="url(#c20)"/>
<circle cx="171.8" cy="310.8" r="2.5" fill="#000" clip-path="url(#c20)"/>
<circle cx="188" cy="288.5" r="2.5" fill="#000" clip-path="url(#c20)"/>
<circle cx="188" cy="294.1" r="2.5" fill="#000" clip-path="url(#c20)"/>
<circle cx="188" cy="303.3" r="2.5" fill="#000" clip-path="url(#c20)"/>
<line x1="58.4" y1="299.3" x2="204.2" y2="299.3" stroke="#c62229" stroke-width="1.6" stroke-dasharray="5.3 2.9"/>
<rect x="58.4" y="281.9" width="145.8" height="96.55" fill="none" stroke="#000" stroke-width="1.35"/>
<line x1="52.2" y1="378.45" x2="58.4" y2="378.45" stroke="#000" stroke-width="1.35"/>
<text transform="translate(49.2 381.9) scale(1 1.05)" text-anchor="end" class="t">0</text>
<line x1="52.2" y1="346.3" x2="58.4" y2="346.3" stroke="#000" stroke-width="1.35"/>
<text transform="translate(49.2 349.75) scale(1 1.05)" text-anchor="end" class="t">50</text>
<line x1="52.2" y1="314.1" x2="58.4" y2="314.1" stroke="#000" stroke-width="1.35"/>
<text transform="translate(49.2 317.55) scale(1 1.05)" text-anchor="end" class="t">100</text>
<line x1="52.2" y1="281.9" x2="58.4" y2="281.9" stroke="#000" stroke-width="1.35"/>
<text transform="translate(49.2 285.35) scale(1 1.05)" text-anchor="end" class="t">150</text>
<line x1="74.6" y1="378.45" x2="74.6" y2="384.05" stroke="#000" stroke-width="1.2"/>
<text transform="translate(78.4 387.15) rotate(-90) scale(1 1.05)" text-anchor="end" class="l">Ref.</text>
<line x1="90.8" y1="378.45" x2="90.8" y2="384.05" stroke="#000" stroke-width="1.2"/>
<text transform="translate(94.6 387.15) rotate(-90) scale(1 1.05)" text-anchor="end" class="l">WT</text>
<line x1="107" y1="378.45" x2="107" y2="384.05" stroke="#000" stroke-width="1.2"/>
<text transform="translate(110.8 387.15) rotate(-90) scale(1 1.05)" text-anchor="end" class="l">D18G</text>
<line x1="123.2" y1="378.45" x2="123.2" y2="384.05" stroke="#000" stroke-width="1.2"/>
<text transform="translate(127 387.15) rotate(-90) scale(1 1.05)" text-anchor="end" class="l">A36P</text>
<line x1="139.4" y1="378.45" x2="139.4" y2="384.05" stroke="#000" stroke-width="1.2"/>
<text transform="translate(143.2 387.15) rotate(-90) scale(1 1.05)" text-anchor="end" class="l">L58H</text>
<line x1="155.6" y1="378.45" x2="155.6" y2="384.05" stroke="#000" stroke-width="1.2"/>
<text transform="translate(159.4 387.15) rotate(-90) scale(1 1.05)" text-anchor="end" class="l">Y69H</text>
<line x1="171.8" y1="378.45" x2="171.8" y2="384.05" stroke="#000" stroke-width="1.2"/>
<text transform="translate(175.6 387.15) rotate(-90) scale(1 1.05)" text-anchor="end" class="l">L111M</text>
<line x1="188" y1="378.45" x2="188" y2="384.05" stroke="#000" stroke-width="1.2"/>
<text transform="translate(191.8 387.15) rotate(-90) scale(1 1.05)" text-anchor="end" class="l">V122I</text>
<rect x="231.5" y="352.7" width="145.8" height="14.2" fill="#ce6d62"/>
<rect x="241.65" y="350" width="12.1" height="28.45" fill="#0a0a0a" stroke="#000" stroke-width="1.35"/>
<rect x="257.85" y="354.6" width="12.1" height="23.85" fill="#6c6c6c" stroke="#000" stroke-width="1.35"/>
<rect x="274.05" y="360.8" width="12.1" height="17.65" fill="#6c6c6c" stroke="#000" stroke-width="1.35"/>
<rect x="290.25" y="362.9" width="12.1" height="15.55" fill="#6c6c6c" stroke="#000" stroke-width="1.35"/>
<rect x="306.45" y="364.5" width="12.1" height="13.95" fill="#6c6c6c" stroke="#000" stroke-width="1.35"/>
<rect x="322.65" y="359.8" width="12.1" height="18.65" fill="#6c6c6c" stroke="#000" stroke-width="1.35"/>
<rect x="338.85" y="360.4" width="12.1" height="18.05" fill="#6c6c6c" stroke="#000" stroke-width="1.35"/>
<rect x="355.05" y="357.1" width="12.1" height="21.35" fill="#6c6c6c" stroke="#000" stroke-width="1.35"/>
<clipPath id="c21"><rect x="231.5" y="281.9" width="145.8" height="96.55"/></clipPath>
<circle cx="263.9" cy="345.6" r="2.5" fill="#000" clip-path="url(#c21)"/>
<circle cx="263.9" cy="356.4" r="2.5" fill="#000" clip-path="url(#c21)"/>
<circle cx="263.9" cy="361.3" r="2.5" fill="#000" clip-path="url(#c21)"/>
<circle cx="280.1" cy="350.6" r="2.5" fill="#000" clip-path="url(#c21)"/>
<circle cx="280.1" cy="356.4" r="2.5" fill="#000" clip-path="url(#c21)"/>
<circle cx="280.1" cy="374.5" r="2.5" fill="#000" clip-path="url(#c21)"/>
<circle cx="296.3" cy="355.8" r="2.5" fill="#000" clip-path="url(#c21)"/>
<circle cx="296.3" cy="359.5" r="2.5" fill="#000" clip-path="url(#c21)"/>
<circle cx="296.3" cy="371.5" r="2.5" fill="#000" clip-path="url(#c21)"/>
<circle cx="312.5" cy="356.4" r="2.5" fill="#000" clip-path="url(#c21)"/>
<circle cx="312.5" cy="356.8" r="2.5" fill="#000" clip-path="url(#c21)"/>
<circle cx="312.5" cy="377.7" r="2.5" fill="#000" clip-path="url(#c21)"/>
<circle cx="328.7" cy="355.2" r="2.5" fill="#000" clip-path="url(#c21)"/>
<circle cx="328.7" cy="357.6" r="2.5" fill="#000" clip-path="url(#c21)"/>
<circle cx="328.7" cy="362.6" r="2.5" fill="#000" clip-path="url(#c21)"/>
<circle cx="344.9" cy="357" r="2.5" fill="#000" clip-path="url(#c21)"/>
<circle cx="344.9" cy="360.5" r="2.5" fill="#000" clip-path="url(#c21)"/>
<circle cx="344.9" cy="362.8" r="2.5" fill="#000" clip-path="url(#c21)"/>
<circle cx="361.1" cy="354" r="2.5" fill="#000" clip-path="url(#c21)"/>
<circle cx="361.1" cy="357" r="2.5" fill="#000" clip-path="url(#c21)"/>
<circle cx="361.1" cy="360.1" r="2.5" fill="#000" clip-path="url(#c21)"/>
<line x1="231.5" y1="360" x2="377.3" y2="360" stroke="#c62229" stroke-width="1.6" stroke-dasharray="5.3 2.9"/>
<rect x="231.5" y="281.9" width="145.8" height="96.55" fill="none" stroke="#000" stroke-width="1.35"/>
<line x1="225.3" y1="378.45" x2="231.5" y2="378.45" stroke="#000" stroke-width="1.35"/>
<line x1="225.3" y1="346.3" x2="231.5" y2="346.3" stroke="#000" stroke-width="1.35"/>
<line x1="225.3" y1="314.1" x2="231.5" y2="314.1" stroke="#000" stroke-width="1.35"/>
<line x1="225.3" y1="281.9" x2="231.5" y2="281.9" stroke="#000" stroke-width="1.35"/>
<line x1="247.7" y1="378.45" x2="247.7" y2="384.05" stroke="#000" stroke-width="1.2"/>
<text transform="translate(251.5 387.15) rotate(-90) scale(1 1.05)" text-anchor="end" class="l">Ref.</text>
<line x1="263.9" y1="378.45" x2="263.9" y2="384.05" stroke="#000" stroke-width="1.2"/>
<text transform="translate(267.7 387.15) rotate(-90) scale(1 1.05)" text-anchor="end" class="l">WT</text>
<line x1="280.1" y1="378.45" x2="280.1" y2="384.05" stroke="#000" stroke-width="1.2"/>
<text transform="translate(283.9 387.15) rotate(-90) scale(1 1.05)" text-anchor="end" class="l">D18G</text>
<line x1="296.3" y1="378.45" x2="296.3" y2="384.05" stroke="#000" stroke-width="1.2"/>
<text transform="translate(300.1 387.15) rotate(-90) scale(1 1.05)" text-anchor="end" class="l">A36P</text>
<line x1="312.5" y1="378.45" x2="312.5" y2="384.05" stroke="#000" stroke-width="1.2"/>
<text transform="translate(316.3 387.15) rotate(-90) scale(1 1.05)" text-anchor="end" class="l">L58H</text>
<line x1="328.7" y1="378.45" x2="328.7" y2="384.05" stroke="#000" stroke-width="1.2"/>
<text transform="translate(332.5 387.15) rotate(-90) scale(1 1.05)" text-anchor="end" class="l">Y69H</text>
<line x1="344.9" y1="378.45" x2="344.9" y2="384.05" stroke="#000" stroke-width="1.2"/>
<text transform="translate(348.7 387.15) rotate(-90) scale(1 1.05)" text-anchor="end" class="l">L111M</text>
<line x1="361.1" y1="378.45" x2="361.1" y2="384.05" stroke="#000" stroke-width="1.2"/>
<text transform="translate(364.9 387.15) rotate(-90) scale(1 1.05)" text-anchor="end" class="l">V122I</text>
<rect x="404" y="332.8" width="145.8" height="9.5" fill="#ce6d62"/>
<rect x="414.15" y="328.1" width="12.1" height="50.35" fill="#0a0a0a" stroke="#000" stroke-width="1.35"/>
<rect x="430.35" y="338.3" width="12.1" height="40.15" fill="#6c6c6c" stroke="#000" stroke-width="1.35"/>
<rect x="446.55" y="341.3" width="12.1" height="37.15" fill="#6c6c6c" stroke="#000" stroke-width="1.35"/>
<rect x="462.75" y="331" width="12.1" height="47.45" fill="#6c6c6c" stroke="#000" stroke-width="1.35"/>
<rect x="478.95" y="340.8" width="12.1" height="37.65" fill="#6c6c6c" stroke="#000" stroke-width="1.35"/>
<rect x="495.15" y="338.6" width="12.1" height="39.85" fill="#6c6c6c" stroke="#000" stroke-width="1.35"/>
<rect x="511.35" y="336" width="12.1" height="42.45" fill="#6c6c6c" stroke="#000" stroke-width="1.35"/>
<rect x="527.55" y="335.4" width="12.1" height="43.05" fill="#6c6c6c" stroke="#000" stroke-width="1.35"/>
<clipPath id="c22"><rect x="404" y="281.9" width="145.8" height="96.55"/></clipPath>
<circle cx="436.4" cy="333.5" r="2.5" fill="#000" clip-path="url(#c22)"/>
<circle cx="436.4" cy="340.2" r="2.5" fill="#000" clip-path="url(#c22)"/>
<circle cx="436.4" cy="340.3" r="2.5" fill="#000" clip-path="url(#c22)"/>
<circle cx="452.6" cy="337.6" r="2.5" fill="#000" clip-path="url(#c22)"/>
<circle cx="452.6" cy="341.7" r="2.5" fill="#000" clip-path="url(#c22)"/>
<circle cx="452.6" cy="343.7" r="2.5" fill="#000" clip-path="url(#c22)"/>
<circle cx="468.8" cy="329.5" r="2.5" fill="#000" clip-path="url(#c22)"/>
<circle cx="468.8" cy="330.1" r="2.5" fill="#000" clip-path="url(#c22)"/>
<circle cx="468.8" cy="332.5" r="2.5" fill="#000" clip-path="url(#c22)"/>
<circle cx="485" cy="334.7" r="2.5" fill="#000" clip-path="url(#c22)"/>
<circle cx="485" cy="337.6" r="2.5" fill="#000" clip-path="url(#c22)"/>
<circle cx="485" cy="348.6" r="2.5" fill="#000" clip-path="url(#c22)"/>
<circle cx="501.2" cy="334.2" r="2.5" fill="#000" clip-path="url(#c22)"/>
<circle cx="501.2" cy="334.3" r="2.5" fill="#000" clip-path="url(#c22)"/>
<circle cx="501.2" cy="346.4" r="2.5" fill="#000" clip-path="url(#c22)"/>
<circle cx="517.4" cy="333.9" r="2.5" fill="#000" clip-path="url(#c22)"/>
<circle cx="517.4" cy="334.2" r="2.5" fill="#000" clip-path="url(#c22)"/>
<circle cx="517.4" cy="339" r="2.5" fill="#000" clip-path="url(#c22)"/>
<circle cx="533.6" cy="331.6" r="2.5" fill="#000" clip-path="url(#c22)"/>
<circle cx="533.6" cy="332" r="2.5" fill="#000" clip-path="url(#c22)"/>
<circle cx="533.6" cy="341.7" r="2.5" fill="#000" clip-path="url(#c22)"/>
<line x1="404" y1="337.4" x2="549.8" y2="337.4" stroke="#c62229" stroke-width="1.6" stroke-dasharray="5.3 2.9"/>
<rect x="404" y="281.9" width="145.8" height="96.55" fill="none" stroke="#000" stroke-width="1.35"/>
<line x1="397.8" y1="378.45" x2="404" y2="378.45" stroke="#000" stroke-width="1.35"/>
<line x1="397.8" y1="346.3" x2="404" y2="346.3" stroke="#000" stroke-width="1.35"/>
<line x1="397.8" y1="314.1" x2="404" y2="314.1" stroke="#000" stroke-width="1.35"/>
<line x1="397.8" y1="281.9" x2="404" y2="281.9" stroke="#000" stroke-width="1.35"/>
<line x1="420.2" y1="378.45" x2="420.2" y2="384.05" stroke="#000" stroke-width="1.2"/>
<text transform="translate(424 387.15) rotate(-90) scale(1 1.05)" text-anchor="end" class="l">Ref.</text>
<line x1="436.4" y1="378.45" x2="436.4" y2="384.05" stroke="#000" stroke-width="1.2"/>
<text transform="translate(440.2 387.15) rotate(-90) scale(1 1.05)" text-anchor="end" class="l">WT</text>
<line x1="452.6" y1="378.45" x2="452.6" y2="384.05" stroke="#000" stroke-width="1.2"/>
<text transform="translate(456.4 387.15) rotate(-90) scale(1 1.05)" text-anchor="end" class="l">D18G</text>
<line x1="468.8" y1="378.45" x2="468.8" y2="384.05" stroke="#000" stroke-width="1.2"/>
<text transform="translate(472.6 387.15) rotate(-90) scale(1 1.05)" text-anchor="end" class="l">A36P</text>
<line x1="485" y1="378.45" x2="485" y2="384.05" stroke="#000" stroke-width="1.2"/>
<text transform="translate(488.8 387.15) rotate(-90) scale(1 1.05)" text-anchor="end" class="l">L58H</text>
<line x1="501.2" y1="378.45" x2="501.2" y2="384.05" stroke="#000" stroke-width="1.2"/>
<text transform="translate(505 387.15) rotate(-90) scale(1 1.05)" text-anchor="end" class="l">Y69H</text>
<line x1="517.4" y1="378.45" x2="517.4" y2="384.05" stroke="#000" stroke-width="1.2"/>
<text transform="translate(521.2 387.15) rotate(-90) scale(1 1.05)" text-anchor="end" class="l">L111M</text>
<line x1="533.6" y1="378.45" x2="533.6" y2="384.05" stroke="#000" stroke-width="1.2"/>
<text transform="translate(537.4 387.15) rotate(-90) scale(1 1.05)" text-anchor="end" class="l">V122I</text>
<rect x="576.6" y="335.7" width="145.8" height="16.8" fill="#ce6d62"/>
<rect x="586.75" y="337.8" width="12.1" height="40.65" fill="#0a0a0a" stroke="#000" stroke-width="1.35"/>
<rect x="602.95" y="344.9" width="12.1" height="33.55" fill="#6c6c6c" stroke="#000" stroke-width="1.35"/>
<rect x="619.15" y="341.4" width="12.1" height="37.05" fill="#6c6c6c" stroke="#000" stroke-width="1.35"/>
<rect x="635.35" y="343.8" width="12.1" height="34.65" fill="#6c6c6c" stroke="#000" stroke-width="1.35"/>
<rect x="651.55" y="337.5" width="12.1" height="40.95" fill="#6c6c6c" stroke="#000" stroke-width="1.35"/>
<rect x="667.75" y="348.6" width="12.1" height="29.85" fill="#6c6c6c" stroke="#000" stroke-width="1.35"/>
<rect x="683.95" y="343.5" width="12.1" height="34.95" fill="#6c6c6c" stroke="#000" stroke-width="1.35"/>
<rect x="700.15" y="348.6" width="12.1" height="29.85" fill="#6c6c6c" stroke="#000" stroke-width="1.35"/>
<clipPath id="c23"><rect x="576.6" y="281.9" width="145.8" height="96.55"/></clipPath>
<circle cx="609" cy="326.9" r="2.5" fill="#000" clip-path="url(#c23)"/>
<circle cx="609" cy="340.8" r="2.5" fill="#000" clip-path="url(#c23)"/>
<circle cx="609" cy="366" r="2.5" fill="#000" clip-path="url(#c23)"/>
<circle cx="625.2" cy="340.3" r="2.5" fill="#000" clip-path="url(#c23)"/>
<circle cx="625.2" cy="341.1" r="2.5" fill="#000" clip-path="url(#c23)"/>
<circle cx="625.2" cy="341.9" r="2.5" fill="#000" clip-path="url(#c23)"/>
<circle cx="641.4" cy="337.7" r="2.5" fill="#000" clip-path="url(#c23)"/>
<circle cx="641.4" cy="344.3" r="2.5" fill="#000" clip-path="url(#c23)"/>
<circle cx="641.4" cy="348.7" r="2.5" fill="#000" clip-path="url(#c23)"/>
<circle cx="657.6" cy="332.8" r="2.5" fill="#000" clip-path="url(#c23)"/>
<circle cx="657.6" cy="334.8" r="2.5" fill="#000" clip-path="url(#c23)"/>
<circle cx="657.6" cy="340.7" r="2.5" fill="#000" clip-path="url(#c23)"/>
<circle cx="673.8" cy="337.2" r="2.5" fill="#000" clip-path="url(#c23)"/>
<circle cx="673.8" cy="352.2" r="2.5" fill="#000" clip-path="url(#c23)"/>
<circle cx="673.8" cy="354.9" r="2.5" fill="#000" clip-path="url(#c23)"/>
<circle cx="690" cy="339.6" r="2.5" fill="#000" clip-path="url(#c23)"/>
<circle cx="690" cy="342.7" r="2.5" fill="#000" clip-path="url(#c23)"/>
<circle cx="690" cy="348" r="2.5" fill="#000" clip-path="url(#c23)"/>
<circle cx="706.2" cy="340.7" r="2.5" fill="#000" clip-path="url(#c23)"/>
<circle cx="706.2" cy="346.7" r="2.5" fill="#000" clip-path="url(#c23)"/>
<circle cx="706.2" cy="356.5" r="2.5" fill="#000" clip-path="url(#c23)"/>
<line x1="576.6" y1="344.3" x2="722.4" y2="344.3" stroke="#c62229" stroke-width="1.6" stroke-dasharray="5.3 2.9"/>
<rect x="576.6" y="281.9" width="145.8" height="96.55" fill="none" stroke="#000" stroke-width="1.35"/>
<line x1="570.4" y1="378.45" x2="576.6" y2="378.45" stroke="#000" stroke-width="1.35"/>
<line x1="570.4" y1="346.3" x2="576.6" y2="346.3" stroke="#000" stroke-width="1.35"/>
<line x1="570.4" y1="314.1" x2="576.6" y2="314.1" stroke="#000" stroke-width="1.35"/>
<line x1="570.4" y1="281.9" x2="576.6" y2="281.9" stroke="#000" stroke-width="1.35"/>
<line x1="592.8" y1="378.45" x2="592.8" y2="384.05" stroke="#000" stroke-width="1.2"/>
<text transform="translate(596.6 387.15) rotate(-90) scale(1 1.05)" text-anchor="end" class="l">Ref.</text>
<line x1="609" y1="378.45" x2="609" y2="384.05" stroke="#000" stroke-width="1.2"/>
<text transform="translate(612.8 387.15) rotate(-90) scale(1 1.05)" text-anchor="end" class="l">WT</text>
<line x1="625.2" y1="378.45" x2="625.2" y2="384.05" stroke="#000" stroke-width="1.2"/>
<text transform="translate(629 387.15) rotate(-90) scale(1 1.05)" text-anchor="end" class="l">D18G</text>
<line x1="641.4" y1="378.45" x2="641.4" y2="384.05" stroke="#000" stroke-width="1.2"/>
<text transform="translate(645.2 387.15) rotate(-90) scale(1 1.05)" text-anchor="end" class="l">A36P</text>
<line x1="657.6" y1="378.45" x2="657.6" y2="384.05" stroke="#000" stroke-width="1.2"/>
<text transform="translate(661.4 387.15) rotate(-90) scale(1 1.05)" text-anchor="end" class="l">L58H</text>
<line x1="673.8" y1="378.45" x2="673.8" y2="384.05" stroke="#000" stroke-width="1.2"/>
<text transform="translate(677.6 387.15) rotate(-90) scale(1 1.05)" text-anchor="end" class="l">Y69H</text>
<line x1="690" y1="378.45" x2="690" y2="384.05" stroke="#000" stroke-width="1.2"/>
<text transform="translate(693.8 387.15) rotate(-90) scale(1 1.05)" text-anchor="end" class="l">L111M</text>
<line x1="706.2" y1="378.45" x2="706.2" y2="384.05" stroke="#000" stroke-width="1.2"/>
<text transform="translate(710 387.15) rotate(-90) scale(1 1.05)" text-anchor="end" class="l">V122I</text>
<text transform="translate(23.8 64.0) rotate(-90)" text-anchor="middle" class="l">C<tspan font-size="7" dy="0.6">α</tspan><tspan dy="-0.6"> RMSD (Å)</tspan></text>
<text transform="translate(23.2 206.9) rotate(-90)" text-anchor="middle" class="l">Hydrogen Bonds (<tspan font-style="italic">n</tspan>)</text>
<text transform="translate(9.0 331.8) rotate(-90)" text-anchor="middle" class="l">Hydrophobic</text>
<text transform="translate(23.5 330.6) rotate(-90)" text-anchor="middle" class="l">Contacts (<tspan font-style="italic">n</tspan>)</text>
</svg>
</body></html>
